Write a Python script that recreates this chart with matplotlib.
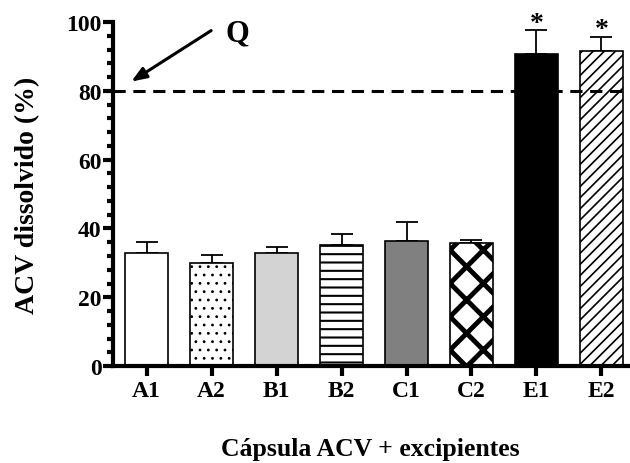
import matplotlib.pyplot as plt
from matplotlib.ticker import MultipleLocator

# Data
categories = ["A1", "A2", "B1", "B2", "C1", "C2", "E1", "E2"]
means = [33, 30, 33, 35.2, 36.5, 35.8, 90.8, 91.6]
errors = [3.0, 2.3, 1.6, 3.3, 5.5, 0.9, 6.9, 4.2]
significant = [False, False, False, False, False, False, True, True]
q_limit = 80

face_colors = ["white", "white", "#d3d3d3", "white", "#808080", "white", "black", "white"]
hatches = [None, "..", None, "--", None, "x", None, "///"]
hatch_widths = [1.0, 0.8, 1.0, 1.5, 1.0, 3.5, 1.0, 1.2]

SERIF = ["Liberation Serif", "DejaVu Serif"]

fig = plt.figure(figsize=(6.3, 4.64), dpi=100)
ax = fig.add_axes([0.179, 0.209, 0.818, 0.741])

x = list(range(len(categories)))
for i in x:
    with plt.rc_context({"hatch.linewidth": hatch_widths[i]}):
        bar = ax.bar(i, means[i], width=0.67, color=face_colors[i],
                     edgecolor="black", linewidth=1.2, hatch=hatches[i], zorder=2)
    p = bar.patches[0]
    if hasattr(p, "set_hatch_linewidth"):
        p.set_hatch_linewidth(hatch_widths[i])

ax.errorbar(x, means, yerr=[[0] * len(errors), errors], fmt="none",
            ecolor="black", elinewidth=1.3, capsize=8, capthick=1.3, zorder=1)

for i in x:
    if significant[i]:
        ax.text(i, means[i] + errors[i] + 0.1, "*", ha="center", va="baseline",
                fontsize=20, fontweight="bold", family=SERIF)

ax.axhline(q_limit, xmin=0, xmax=0.99, color="black", linestyle=(0, (4, 2.5)),
           linewidth=2.2, zorder=3)

# Q arrow
ax.annotate("", xy=(-0.27, 82.3), xytext=(1.03, 98.0),
            arrowprops=dict(arrowstyle="-|>,head_length=0.9,head_width=0.35",
                            color="black", lw=2.2), annotation_clip=False)
ax.text(1.39, 97.0, "Q", ha="center", va="center", fontsize=22,
        fontweight="bold", family=SERIF)

ax.set_xlim(-0.52, 7.41)
ax.set_ylim(0, 100)
ax.set_xticks(x)
ax.set_xticklabels(categories)
ax.yaxis.set_major_locator(MultipleLocator(20))
ax.yaxis.set_minor_locator(MultipleLocator(4))

for side in ["top", "right"]:
    ax.spines[side].set_visible(False)
for side in ["left", "bottom"]:
    ax.spines[side].set_linewidth(3)

ax.tick_params(axis="both", which="major", width=3, length=7, labelsize=17)
ax.tick_params(axis="x", which="major", pad=3)
ax.tick_params(axis="y", which="major", pad=1)
ax.tick_params(axis="y", which="minor", width=3, length=4)

for lbl in ax.get_xticklabels() + ax.get_yticklabels():
    lbl.set_fontweight("bold")
    lbl.set_family(SERIF)

ax.set_ylabel("ACV dissolvido (%)", fontsize=20, fontweight="bold",
              family=SERIF, labelpad=19)
ax.set_xlabel("Cápsula ACV + excipientes", fontsize=18.5, fontweight="bold",
              family=SERIF, labelpad=26)

plt.savefig("out.png", dpi=100)
